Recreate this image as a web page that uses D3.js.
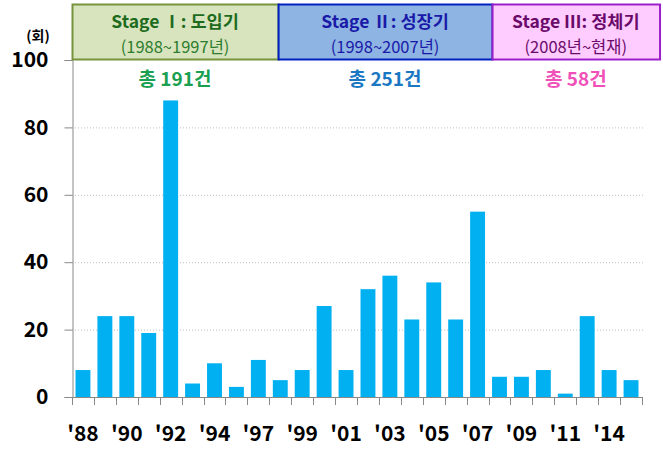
<!DOCTYPE html>
<html><head><meta charset="utf-8">
<script src="https://cdn.jsdelivr.net/npm/d3@7"></script>
<style>body{margin:0;background:#fff}svg{display:block}text{font-family:"Noto Sans CJK KR","Noto Sans",sans-serif}</style>
</head><body><svg id="c" width="663" height="462"></svg>
<script>
const years = ["'88","'89","'90","'91","'92","'93","'94","'95","'97","'98","'99","'00","'01","'02","'03","'04","'05","'06","'07","'08","'09","'10","'11","'12","'14","'15"];
const counts = [8,24,24,19,88,4,10,3,11,5,8,27,8,32,36,23,34,23,55,6,6,8,1,24,8,5];
const yTicks = [0,20,40,60,80,100];
const stageTitles = ["Stage Ⅰ: 도입기","Stage Ⅱ: 성장기","Stage Ⅲ: 정체기"];
const stageRanges = ["(1988~1997년)","(1998~2007년)","(2008년~현재)"];
const stageTotals = ["총 191건","총 251건","총 58건"];
const stageEdges = [0, 9.4, 19.16, 26.8];
const stageFill = ["#D7E4BD","#8EB4E3","#FFCCFF"];
const stageStroke = ["#77933C","#0020C0","#9B1FC8"];
const stageTitleColor = ["#1E6B1E","#1A1AA8","#6A0A6A"];
const stageSubColor = ["#2E7D2E","#1A1AA8","#6A0A6A"];
const totalColor = ["#1AA050","#1A78C2","#F050B8"];

const svg = d3.select("#c");
const L = 72, R = 642, T = 60, B = 397;
const x = d3.scaleBand().domain(years).range([L, R]).paddingInner(0.32).paddingOuter(0.16);
const y = d3.scaleLinear().domain([0,100]).range([B, T]);
const u = d3.scaleLinear().domain([0, years.length]).range([L, R]);

// gridlines
svg.append("g").selectAll("line").data(yTicks.filter(d=>d>0 && d<100)).join("line")
  .attr("x1", L).attr("x2", R+1).attr("y1", d=>y(d)+0.5).attr("y2", d=>y(d)+0.5)
  .attr("stroke","#BFBFBF").attr("stroke-dasharray","1,2");

// bars
svg.append("g").selectAll("rect").data(counts).join("rect")
  .attr("x",(d,i)=>x(years[i])).attr("width",x.bandwidth())
  .attr("y",d=>y(d)).attr("height",d=>B-y(d)).attr("fill","#00B0F0");

// y axis
const ya = svg.append("g").attr("transform",`translate(${L+0.5},0)`)
  .call(d3.axisLeft(y).tickValues(yTicks).tickSize(8).tickPadding(16));
ya.select(".domain").attr("stroke","#888");
ya.selectAll(".tick line").attr("stroke","#888");
ya.selectAll(".tick text").attr("font-size",21).attr("font-weight","bold").attr("fill","#000")
  .attr("font-family","'Noto Sans','Noto Sans CJK KR',sans-serif");

// x axis line and ticks at boundaries
svg.append("line").attr("x1",L).attr("x2",R+1).attr("y1",B+0.5).attr("y2",B+0.5).attr("stroke","#888");
svg.append("g").selectAll("line").data(d3.range(years.length+1)).join("line")
  .attr("x1",d=>Math.round(u(d))+0.5).attr("x2",d=>Math.round(u(d))+0.5).attr("y1",B).attr("y2",B+8).attr("stroke","#888");
svg.append("g").selectAll("text").data(years.filter((d,i)=>i%2===0)).join("text")
  .attr("x",d=>x(d)+x.bandwidth()/2).attr("y",441).attr("text-anchor","middle")
  .attr("font-size",21).attr("font-weight","bold").attr("fill","#000")
  .attr("font-family","'Noto Sans','Noto Sans CJK KR',sans-serif").text(d=>d);

// unit
svg.append("text").attr("x",38).attr("y",41).attr("text-anchor","middle").attr("font-size",14).attr("font-weight","bold").text("(회)");

// stage boxes
const sg = svg.append("g").selectAll("g").data(stageTitles).join("g");
sg.append("rect").attr("x",(d,i)=>u(stageEdges[i])+0.5).attr("y",4.5)
  .attr("width",(d,i)=>u(stageEdges[i+1])-u(stageEdges[i])).attr("height",55)
  .attr("fill",(d,i)=>stageFill[i]).attr("stroke",(d,i)=>stageStroke[i]).attr("stroke-width",2);
sg.append("text").attr("x",(d,i)=>(u(stageEdges[i])+u(stageEdges[i+1]))/2).attr("y",28)
  .attr("text-anchor","middle").attr("font-size",17.5).attr("font-weight","bold")
  .attr("fill",(d,i)=>stageTitleColor[i]).text(d=>d);
sg.append("text").attr("x",(d,i)=>(u(stageEdges[i])+u(stageEdges[i+1]))/2).attr("y",53)
  .attr("text-anchor","middle").attr("font-size",16.5)
  .attr("fill",(d,i)=>stageSubColor[i]).text((d,i)=>stageRanges[i]);
sg.append("text").attr("x",(d,i)=>(u(stageEdges[i])+u(stageEdges[i+1]))/2).attr("y",86)
  .attr("text-anchor","middle").attr("font-size",19).attr("font-weight","bold")
  .attr("fill",(d,i)=>totalColor[i]).text((d,i)=>stageTotals[i]);
</script></body></html>
